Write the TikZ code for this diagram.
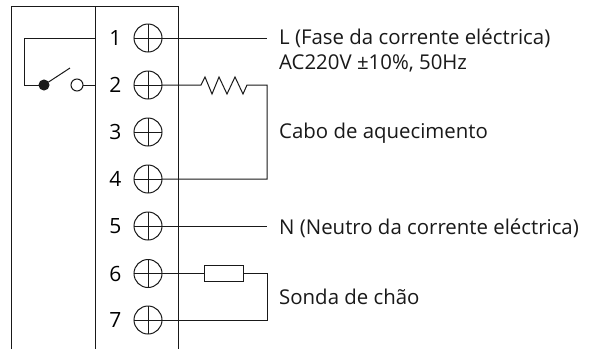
\documentclass[tikz,border=0pt]{standalone}
\usepackage{fontspec}
\setmainfont{Open Sans}
\tikzset{
  wire/.style={line width=1pt,black!90},
  terminal/.style={circle,draw,line width=1pt,black!90,minimum size=28pt,inner sep=0pt,outer sep=0pt,
    path picture={\draw[line width=1pt,black!90] (path picture bounding box.north)--(path picture bounding box.south)
      (path picture bounding box.west)--(path picture bounding box.east);}},
  num/.style={font=\fontsize{21}{21}\selectfont,inner sep=0pt,anchor=base},
  lbl/.style={font=\fontsize{20.4}{20.4}\selectfont,inner sep=0pt,anchor=base west,text=black!90},
}
\begin{document}
\begin{tikzpicture}[x=1pt,y=-1pt]
\useasboundingbox[fill=white] (0,0) rectangle (592,349);
% housing
\coordinate (tl) at (11,6); \coordinate (tm) at (95,6); \coordinate (tr) at (178,6);
\coordinate (bl) at (11,349); \coordinate (bm) at (95,349); \coordinate (br) at (178,349);
\draw[wire] (bl)--(tl)--(tr)--(br);
\draw[wire] (tm)--(bm);
% terminals
\foreach \i/\y in {1/38,2/85,3/132,4/179,5/226,6/273.5,7/320}{
  \node[terminal] (t\i) at (148,\y) {};
  \node[num] (n\i) at (115.5,\y+7.5) {\i};
}
% labels
\node[lbl] (lL) at (279,44) {L (Fase da corrente eléctrica)};
\node[lbl] (lAC) at (279,69) {AC220V ±10\%, 50Hz};
\node[lbl] (lC) at (279,138.5) {Cabo de aquecimento};
\node[lbl] (lN) at (279,234) {N (Neutro da corrente eléctrica)};
\node[lbl] (lS) at (279,304) {Sonda de chão};
% free ends
\coordinate (eL) at (267,38);
\coordinate (eN) at (267,226);
\coordinate (r2) at (267,85);
\coordinate (r4) at (267,179);
\coordinate (s6) at (267,273.5);
\coordinate (s7) at (267,320);
\coordinate (hL) at (95,38);
\coordinate (hR) at (95,85);
\draw[wire] (t1.east)--(eL);
\draw[wire] (t5.east)--(eN);
% heating cable
\coordinate (z0) at (201,85);
\coordinate (z1) at (247,85);
\draw[wire,line join=miter] (t2.east)--(z0)--(205,77)--(212,94)--(219,77)--(227,94)--(235,77)--(243,94)--(z1)--(r2)--(r4)--(t4.east);
% floor sensor
\node[draw,wire,minimum width=39pt,minimum height=16.5pt,inner sep=0pt,outer sep=0pt,fill=white] (probe) at (223.5,273.5) {};
\draw[wire] (t6.east)--(probe.west);
\draw[wire] (probe.east)--(s6)--(s7)--(t7.east);
% switch
\node[circle,fill=black,draw,wire,minimum size=10pt,inner sep=0pt,outer sep=0pt] (dot) at (44,85) {};
\node[circle,draw,wire,minimum size=12pt,inner sep=0pt,outer sep=0pt] (open) at (77,85) {};
\coordinate (blade) at (70,68);
\coordinate (c1) at (24,38);
\coordinate (c2) at (24,85);
\draw[wire] (hL)--(c1)--(c2)--(dot);
\draw[wire] (dot)--(blade);
\draw[wire] (open)--(hR);
\end{tikzpicture}
\end{document}
